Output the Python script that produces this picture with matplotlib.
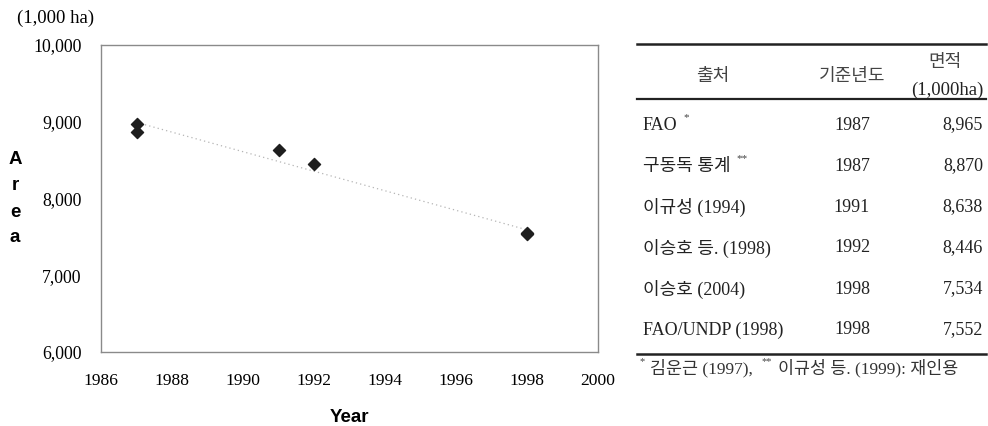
import numpy as np
import matplotlib
matplotlib.use("Agg")
from matplotlib import pyplot as plt
from matplotlib.lines import Line2D

sources = ["FAO", "구동독 통계", "이규성 (1994)", "이승호 등. (1998)", "이승호 (2004)", "FAO/UNDP (1998)"]
marks = ["*", "**", "", "", "", ""]
base_years = [1987, 1987, 1991, 1992, 1998, 1998]
areas = [8965, 8870, 8638, 8446, 7534, 7552]
year_ticks = [1986, 1988, 1990, 1992, 1994, 1996, 1998, 2000]
area_ticks = [6000, 7000, 8000, 9000, 10000]
note_parts = ["김운근 (1997),", "이규성 등. (1999): 재인용"]
note_marks = ["*", "**"]

SERIF = ["Liberation Serif", "Noto Sans CJK KR"]
KR = ["Liberation Serif", "Noto Sans CJK KR", "DejaVu Sans"]

W, H = 988, 426
fig = plt.figure(figsize=(W / 100, H / 100), dpi=100)


def fx(px):
    return px / W


def fy(py):
    return 1 - py / H


ax = fig.add_axes([fx(101), fy(352), fx(598) - fx(101), fy(45) - fy(352)])
ax.set_xlim(1986, 2000)
ax.set_ylim(6000, 10000)

# linear trend line (Excel-style)
slope, icpt = np.polyfit(base_years, areas, 1)
tx = np.array([min(base_years), max(base_years)])
ax.plot(tx, slope * tx + icpt, color="#b5b5b5", lw=0.9, ls=(0, (1, 2.5)))
ax.scatter(base_years, areas, marker="D", s=38, color="#1e1e1e", zorder=3)

ax.set_xticks(year_ticks)
ax.set_yticks(area_ticks)
ax.set_xticklabels([str(y) for y in year_ticks], family="Liberation Serif", fontsize=12.6)
ax.set_yticklabels(["{:,}".format(a) for a in area_ticks], family="Liberation Serif", fontsize=12.8)
ax.tick_params(axis="x", length=0, pad=15)
ax.tick_params(axis="y", length=0, pad=14)
for s in ax.spines.values():
    s.set_color("#8a8a8a")
    s.set_linewidth(1.0)

fig.text(fx(17), fy(18), "(1,000 ha)", family="Liberation Serif", fontsize=13.5, va="center")
for i, ch in enumerate("Area"):
    fig.text(fx(15), fy(160 + 26 * i), ch, family="Liberation Sans", fontweight="bold",
             fontsize=13.5, ha="center", va="center")
fig.text(fx(349), fy(418), "Year", family="Liberation Sans", fontweight="bold",
         fontsize=13.5, ha="center", va="center")

# table
x0, x1 = 637, 986
fig.add_artist(Line2D([fx(x0), fx(x1)], [fy(44), fy(44)], color="#222222", lw=1.8))
fig.add_artist(Line2D([fx(x0), fx(x1)], [fy(99), fy(99)], color="#222222", lw=1.6))
fig.add_artist(Line2D([fx(x0), fx(x1)], [fy(354), fy(354)], color="#222222", lw=1.8))

fig.text(fx(713), fy(77), "출처", family=KR, fontsize=13, ha="center", va="center", color="#444444")
fig.text(fx(852), fy(77), "기준년도", family=KR, fontsize=13, ha="center", va="center", color="#444444")
fig.text(fx(945), fy(62), "면적", family=KR, fontsize=13, ha="center", va="center", color="#444444")
fig.text(fx(983), fy(90), "(1,000ha)", family=SERIF, fontsize=13.5, ha="right", va="center", color="#222222")

row_y = [125, 166, 207, 248, 289, 330]
for src, mk, yr, ar, ry in zip(sources, marks, base_years, areas, row_y):
    t = fig.text(fx(643), fy(ry), src, family=KR, fontsize=13, ha="left", va="center", color="#222222")
    if mk:
        fig.canvas.draw()
        bb = t.get_window_extent()
        fig.text(bb.x1 / W + fx(6), fy(ry - 7), mk, family=SERIF, fontsize=8,
                 ha="left", va="center", color="#444444")
    fig.text(fx(852), fy(ry), str(yr), family=SERIF, fontsize=13, ha="center", va="center", color="#222222")
    fig.text(fx(983), fy(ry), "{:,}".format(ar), family=SERIF, fontsize=13, ha="right", va="center", color="#222222")

# footnote: mark + text, laid out left to right
cur = 639
for mk, part in zip(note_marks, note_parts):
    m = fig.text(fx(cur), fy(362), mk, family=SERIF, fontsize=7.5, ha="left", va="center", color="#444444")
    fig.canvas.draw()
    cur = m.get_window_extent().x1 + 6
    t = fig.text(fx(cur), fy(368), part, family=KR, fontsize=12.5, ha="left", va="center", color="#333333")
    fig.canvas.draw()
    cur = t.get_window_extent().x1 + 8

fig.savefig("out.png", dpi=100)
